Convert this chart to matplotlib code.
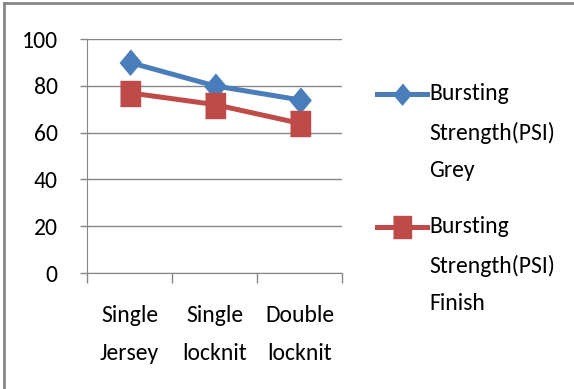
import numpy as np
import matplotlib.pyplot as plt
from matplotlib.lines import Line2D
from matplotlib.legend_handler import HandlerLine2D
from matplotlib.font_manager import FontProperties

categories = ["Single\nJersey", "Single\nlocknit", "Double\nlocknit"]
grey = [90, 80, 74]
finish = [77, 72, 64]
labels = ["Bursting\nStrength(PSI)\nGrey", "Bursting\nStrength(PSI)\nFinish"]
yticks = [0, 20, 40, 60, 80, 100]

plt.rcParams['font.family'] = ['Carlito', 'DejaVu Sans']
FS = 17
SPACING_PT = 27.4  # distance between text lines, as in the picture

diamond = [(0, 1), (0.84, 0), (0, -1), (-0.84, 0)]
square = [(-0.77, -1), (0.77, -1), (0.77, 1), (-0.77, 1)]


class FirstLineHandler(HandlerLine2D):
    # put the legend key next to the first line of a multi-line label
    def __init__(self, shift, msize, **kw):
        super().__init__(**kw)
        self.shift = shift
        self.msize = msize

    def create_artists(self, legend, orig_handle, xdescent, ydescent,
                       width, height, fontsize, trans):
        arts = super().create_artists(legend, orig_handle, xdescent, ydescent,
                                      width, height, fontsize, trans)
        for a in arts:
            a.set_ydata(np.asarray(a.get_ydata()) + self.shift)
            if a.get_marker() not in (None, 'None', ''):
                a.set_markersize(self.msize)
        return arts


fig = plt.figure(figsize=(5.74, 3.89), dpi=100)
ax = fig.add_axes([87 / 574, 116 / 389, 255 / 574, 234 / 389])

renderer = fig.canvas.get_renderer()
_, lp_h, lp_d = renderer.get_text_width_height_descent(
    "lp", FontProperties(family='Carlito', size=FS), ismath=False)
lh_pt = (lp_h - lp_d) * 72 / fig.dpi
ls = SPACING_PT / lh_pt * 38 / 43

x = np.arange(len(categories))
l1, = ax.plot(x, grey, color='#4a7ebb', lw=3.6, marker=diamond, markersize=18,
              label=labels[0])
l2, = ax.plot(x, finish, color='#be4b48', lw=3.6, marker=square, markersize=18,
              label=labels[1])

ax.set_xlim(-0.5, 2.5)
ax.set_ylim(0, 100)
ax.set_yticks(yticks)
ax.set_yticklabels([str(v) for v in yticks], fontsize=FS)
ax.set_xticks([-0.5, 0.5, 1.5, 2.5])
ax.set_xticklabels([])
ax.set_xticks(x, minor=True)
ax.set_xticklabels(categories, minor=True, fontsize=FS)
for t in ax.get_xticklabels(minor=True):
    t.set_linespacing(ls)
ax.tick_params(axis='x', which='minor', length=0, pad=23)
ax.tick_params(axis='x', which='major', length=7, width=1, color='#868686',
               direction='out')
ax.tick_params(axis='y', length=5, width=1, color='#868686', pad=16)
ax.grid(axis='y', color='#868686', lw=1)
ax.set_axisbelow(True)
for s in ['top', 'right']:
    ax.spines[s].set_visible(False)
for s in ['left', 'bottom']:
    ax.spines[s].set_color('#868686')

leg = ax.legend(loc='upper left', bbox_to_anchor=(377 / 574, 1 - 83 / 389),
                bbox_transform=fig.transFigure, frameon=False, fontsize=FS,
                handlelength=2.1, handletextpad=0.12, labelspacing=1.46,
                borderaxespad=0, borderpad=0,
                handler_map={l1: FirstLineHandler(SPACING_PT, 15),
                             l2: FirstLineHandler(SPACING_PT, 16)})
for t in leg.get_texts():
    t.set_linespacing(ls)

# outer chart border
fig.add_artist(Line2D([4 / 574, 4 / 574], [0, 1 - 3 / 389], color='#868686', lw=2))
fig.add_artist(Line2D([4 / 574, 1], [1 - 3 / 389, 1 - 3 / 389], color='#868686', lw=2))

fig.savefig('out.png', dpi=100)
